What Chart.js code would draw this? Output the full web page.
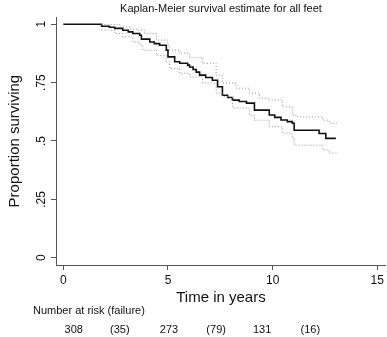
<!DOCTYPE html>
<html>
<head>
<meta charset="utf-8">
<script src="https://cdn.jsdelivr.net/npm/chart.js@4.4.0/dist/chart.umd.min.js"></script>
<style>
  html, body { margin: 0; padding: 0; background: #fff; }
  #wrap { width: 387px; height: 337px; }
</style>
</head>
<body>
<div id="wrap"><canvas id="km" width="387" height="337"></canvas></div>
<script>
// ---- data ----
const kmTime = [0, 1.83, 2.2, 2.46, 2.84, 3.1, 3.32, 3.65, 3.73, 4.13, 4.35, 4.60, 4.92, 5.0, 5.32, 5.56, 5.94, 6.03, 6.2, 6.35, 6.51,
                6.8, 7.12, 7.37, 7.60, 7.85, 8.08, 8.4, 8.75, 9.13, 9.84, 10.1, 10.4, 10.7, 10.94, 11.03, 12.22, 12.54, 13.02];
const kmSurv = [1.0, 0.991, 0.987, 0.982, 0.974, 0.967, 0.960, 0.953, 0.936, 0.924, 0.917, 0.910, 0.889, 0.860, 0.839, 0.833, 0.825, 0.817, 0.806, 0.795, 0.782,
                0.772, 0.760, 0.732, 0.696, 0.686, 0.675, 0.669, 0.662, 0.632, 0.611, 0.601, 0.590, 0.583, 0.576, 0.546, 0.532, 0.511, 0.511];

const upperTime = [1.83, 2.70, 3.18, 3.56, 3.89, 4.45, 4.99, 5.08, 5.56, 6.03, 6.65, 7.30, 7.60, 8.26, 8.89,
                   9.37, 9.84, 10.46, 10.94, 11.11, 12.40, 12.70, 13.06];
const upperSurv = [0.999, 0.988, 0.979, 0.974, 0.960, 0.932, 0.910, 0.889, 0.876, 0.857, 0.833, 0.782, 0.748, 0.726, 0.705,
                   0.683, 0.675, 0.646, 0.611, 0.603, 0.589, 0.576, 0.576];

const lowerTime = [1.83, 2.46, 2.84, 3.32, 3.65, 3.80, 4.45, 4.92, 5.08, 5.56, 6.03, 6.65, 7.30, 7.60, 8.08,
                   8.89, 9.13, 9.84, 10.46, 10.94, 11.03, 12.40, 12.70, 13.06];
const lowerSurv = [0.975, 0.960, 0.946, 0.924, 0.910, 0.889, 0.867, 0.839, 0.810, 0.790, 0.774, 0.748, 0.705, 0.689, 0.641,
                   0.611, 0.589, 0.561, 0.534, 0.512, 0.482, 0.461, 0.448, 0.448];

const xTicks = [0, 5, 10, 15];
const yTicks = [0, 0.25, 0.5, 0.75, 1];
const yTickLabels = ['0', '.25', '.5', '.75', '1'];

const atRiskLabels = ['308', '(35)', '273', '(79)', '131', '(16)'];
const atRiskTimes  = [0.5, 2.7, 5.05, 7.3, 9.5, 11.8];

const toPoints = (xs, ys) => xs.map((x, i) => ({ x, y: ys[i] }));

// number-at-risk table under the axis
const atRiskPlugin = {
  id: 'atRisk',
  afterDraw(chart) {
    const { ctx, scales: { x } } = chart;
    ctx.save();
    ctx.fillStyle = '#111';
    ctx.font = '11px "Liberation Sans", Arial, sans-serif';
    ctx.textBaseline = 'middle';
    ctx.textAlign = 'left';
    ctx.fillText('Number at risk (failure)', 33, 311);
    ctx.textAlign = 'center';
    atRiskLabels.forEach((lab, i) => {
      ctx.fillText(lab, x.getPixelForValue(atRiskTimes[i]), 330);
    });
    ctx.restore();
  }
};

const axisColor = '#555';
const font = '"Liberation Sans", Arial, sans-serif';

const ciStyle = {
  stepped: true,
  borderColor: '#909090',
  borderWidth: 1,
  borderDash: [1, 2],
  pointRadius: 0,
  fill: false,
};

new Chart(document.getElementById('km'), {
  type: 'line',
  data: {
    datasets: [
      { label: 'upper', data: toPoints(upperTime, upperSurv), ...ciStyle },
      { label: 'lower', data: toPoints(lowerTime, lowerSurv), ...ciStyle },
      {
        label: 'Survival',
        data: toPoints(kmTime, kmSurv),
        stepped: true,
        borderColor: '#111',
        borderWidth: 1.6,
        pointRadius: 0,
        fill: false,
      }
    ]
  },
  options: {
    responsive: false,
    animation: false,
    layout: { padding: 0 },
    plugins: {
      legend: { display: false },
      tooltip: { enabled: false },
      title: {
        display: true,
        text: 'Kaplan-Meier survival estimate for all feet',
        fullSize: false,
        color: '#111',
        font: { family: font, size: 11, weight: 'normal' },
        padding: { top: 2, bottom: 2 }
      }
    },
    scales: {
      x: {
        type: 'linear',
        min: -0.35,
        max: 15.41,
        afterBuildTicks: s => { s.ticks = xTicks.map(v => ({ value: v })); },
        afterFit: s => { s.height = 72; },
        grid: { drawOnChartArea: false, drawTicks: true, tickLength: 5, color: axisColor },
        border: { color: axisColor, width: 1 },
        ticks: { color: '#111', font: { family: font, size: 12 }, padding: 3, maxRotation: 0 },
        title: {
          display: true,
          text: 'Time in years',
          color: '#111',
          font: { family: font, size: 15 },
          padding: { top: 0, bottom: 30 }
        }
      },
      y: {
        min: -0.031,
        max: 1.03,
        afterBuildTicks: s => { s.ticks = yTicks.map(v => ({ value: v })); },
        afterFit: s => { s.width = 56; },
        grid: { drawOnChartArea: false, drawTicks: true, tickLength: 5, color: axisColor },
        border: { color: axisColor, width: 1 },
        ticks: {
          color: '#111',
          font: { family: font, size: 12 },
          minRotation: 90,
          maxRotation: 90,
          crossAlign: 'center',
          padding: 1,
          callback: v => yTickLabels[yTicks.indexOf(v)]
        },
        title: {
          display: true,
          text: 'Proportion surviving',
          color: '#111',
          font: { family: font, size: 15 },
          padding: { top: 6, bottom: 0 }
        }
      }
    }
  },
  plugins: [atRiskPlugin]
});
</script>
</body>
</html>
